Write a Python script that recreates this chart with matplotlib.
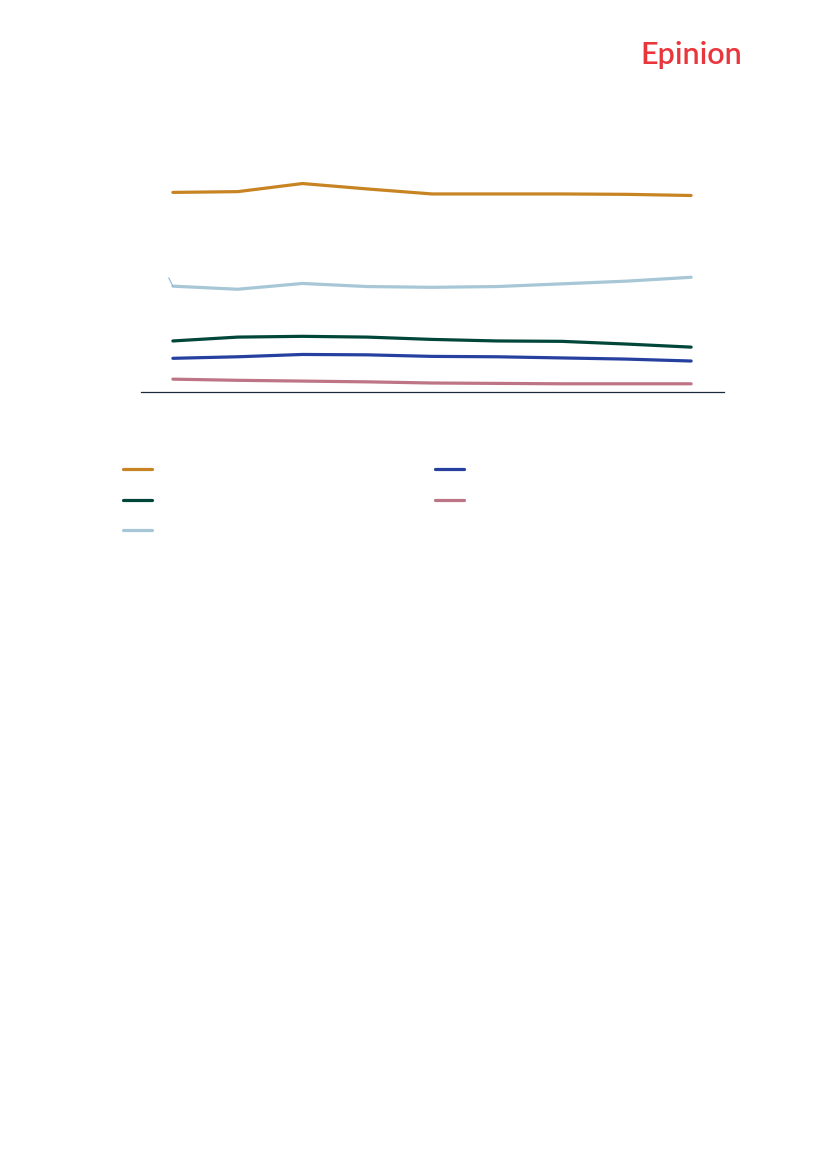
import matplotlib
matplotlib.use("Agg")
import matplotlib.pyplot as plt

# values (no axis labels shown, scale in %)
periods = list(range(9))
series_orange = [51.6, 51.8, 53.9, 52.5, 51.2, 51.2, 51.2, 51.1, 50.8]
series_lightblue = [27.3, 26.5, 28.0, 27.2, 27.0, 27.2, 27.9, 28.6, 29.6]
series_green = [13.1, 14.1, 14.3, 14.1, 13.5, 13.1, 13.0, 12.3, 11.5]
series_blue = [8.6, 9.0, 9.6, 9.5, 9.1, 9.0, 8.7, 8.4, 7.9]
series_pink = [3.2, 2.9, 2.7, 2.5, 2.2, 2.1, 2.0, 2.0, 2.0]

colors = {
    'orange': '#C88423',
    'lightblue': '#A7C7D7',
    'green': '#00473A',
    'blue': '#2640A0',
    'pink': '#BD7585',
}

W, H = 827, 1169
fig = plt.figure(figsize=(W / 100, H / 100), dpi=100)
fig.patch.set_facecolor('white')

ax = fig.add_axes([140.5 / W, 1 - 391.5 / H, (723.5 - 140.5) / W, (391.5 - 160) / H])
lw = 2.3
l_orange, = ax.plot(periods, series_orange, color=colors['orange'], lw=lw, solid_capstyle='round')
l_light, = ax.plot(periods, series_lightblue, color=colors['lightblue'], lw=lw, solid_capstyle='round')
l_green, = ax.plot(periods, series_green, color=colors['green'], lw=lw, solid_capstyle='round')
l_blue, = ax.plot(periods, series_blue, color=colors['blue'], lw=lw, solid_capstyle='round')
l_pink, = ax.plot(periods, series_pink, color=colors['pink'], lw=lw, solid_capstyle='round')

# small leader line at the start of the light blue series
ax.annotate('', xy=(periods[0], series_lightblue[0]), xytext=(-3, 6), textcoords='offset points',
            arrowprops=dict(arrowstyle='-', color='#8DB6D6', lw=0.8, shrinkA=0, shrinkB=0))

ax.set_xlim(-0.5, 8.5)
ax.set_ylim(0, 60)
for s in ['top', 'right', 'left']:
    ax.spines[s].set_visible(False)
ax.spines['bottom'].set_color('#1B2A3A')
ax.spines['bottom'].set_linewidth(0.9)
ax.set_xticks([])
ax.set_yticks([])
ax.patch.set_alpha(0)

handles = [l_orange, l_green, l_light, l_blue, l_pink]
leg = fig.legend(handles, [''] * 5, ncol=2, loc='upper left',
                 bbox_to_anchor=(123 / W, 1 - 463 / H), frameon=False,
                 borderpad=0, borderaxespad=0, fontsize=10,
                 handlelength=2.09, handletextpad=0.8, columnspacing=19.6,
                 labelspacing=1.2)
for h in leg.legend_handles:
    h.set_linewidth(2.3)

fig.text(742 / W, 1 - 64 / H, 'Epinion', color='#E8363C', fontsize=22,
         family='Lato', weight='semibold', ha='right', va='baseline')

fig.savefig('out.png', dpi=100)
